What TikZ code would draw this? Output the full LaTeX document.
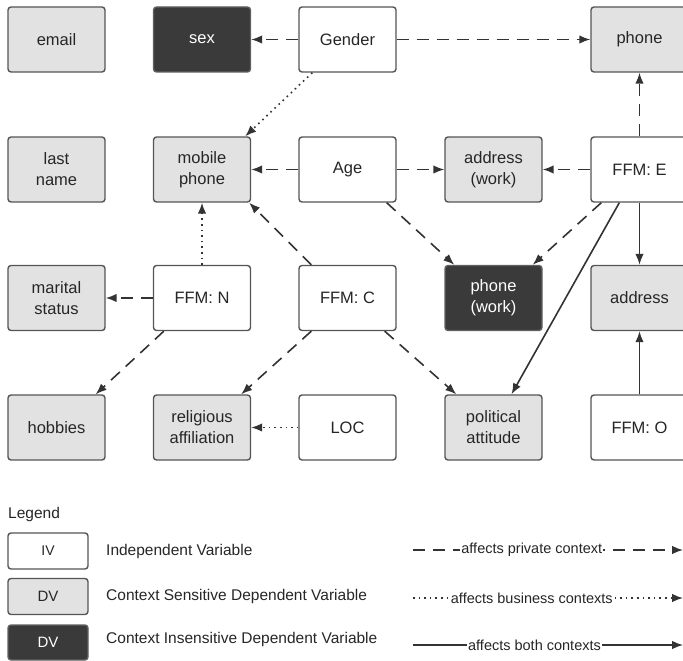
\documentclass[tikz,border=0pt]{standalone}
\usepackage{fontspec}
\setmainfont{Liberation Sans}
\usetikzlibrary{arrows.meta,calc}
\definecolor{edgec}{HTML}{333333}
\definecolor{boxline}{HTML}{555555}
\definecolor{dvfill}{HTML}{E2E2E2}
\definecolor{darkfill}{HTML}{3A3A3A}
\begin{document}
\begin{tikzpicture}[x=1pt,y=-1pt,
  base/.style={rectangle,rounded corners=3pt,draw=boxline,line width=1.4pt,
    minimum width=97pt,minimum height=65pt,inner sep=0pt,align=center,
    font=\fontsize{16.5}{21}\selectfont},
  iv/.style={base,fill=white,text=black!85},
  dv/.style={base,fill=dvfill,text=black!85},
  dk/.style={base,fill=darkfill,draw=darkfill!80,text=white},
  conn/.style={draw=edgec,line width=1.6pt,-{Latex[length=11pt,width=8.5pt]}},
  priv/.style={conn,dash pattern=on 12pt off 8pt},
  bus/.style={conn,dash pattern=on 1.6pt off 4pt},
  both/.style={conn},
  lbl/.style={font=\fontsize{15.5}{18}\selectfont,text=black!85,anchor=west,inner sep=0pt},
  elbl/.style={font=\fontsize{14.5}{17}\selectfont,text=black!85,fill=white,inner sep=1pt}
]
\useasboundingbox (0,0) rectangle (683,661);
\clip (0,0) rectangle (683,661);

% row 1
\node[dv] (email)  at (56.5,39.5) {email};
\node[dk] (sex)    at (202,39.5) {sex};
\node[iv] (gender) at (347.5,39.5) {Gender};
\node[dv] (phone)  at (639.5,39.5) {phone};
% row 2
\node[dv] (last)   at (56.5,169.5) {last\\name};
\node[dv] (mobile) at (202,169.5) {mobile\\phone};
\node[iv] (age)    at (347.5,169.5) {Age};
\node[dv] (addrw)  at (493.5,169.5) {address\\(work)};
\node[iv] (ffme)   at (639.5,169.5) {FFM: E};
% row 3
\node[dv] (marital) at (56.5,298) {marital\\status};
\node[iv] (ffmn)    at (202,298) {FFM: N};
\node[iv] (ffmc)    at (347.5,298) {FFM: C};
\node[dk] (phonew)  at (493.5,298) {phone\\(work)};
\node[dv] (addr)    at (639.5,298) {address};
% row 4
\node[dv] (hobbies) at (56.5,427.5) {hobbies};
\node[dv] (relig)   at (202,427.5) {religious\\affiliation};
\node[iv] (loc)     at (347.5,427.5) {LOC};
\node[dv] (polit)   at (493.5,427.5) {political\\attitude};
\node[iv] (ffmo)    at (639.5,427.5) {FFM: O};

% connectors
\draw[priv] (gender.west) -- (sex.east);
\draw[priv] (gender.east) -- (phone.west);
\draw[bus] ($(gender.south west)+(14,0)$) -- ($(mobile.north east)+(-6,0)$);
\draw[priv] (age.west) -- (mobile.east);
\draw[priv] (age.east) -- (addrw.west);
\draw[priv] (ffme.west) -- (addrw.east);
\draw[priv] (ffme.north) -- (phone.south);
\draw[priv] ($(age.south east)+(-10,0)$) -- ($(phonew.north west)+(10,0)$);
\draw[priv] ($(ffme.south west)+(11,0)$) -- ($(phonew.north east)+(-10,0)$);
\draw[both] ($(ffme.south west)+(29,0)$) -- ($(polit.north)+(18,0)$);
\draw[both] (ffme.south) -- (addr.north);
\draw[both] (ffmo.north) -- (addr.south);
\draw[bus] (ffmn.north) -- (mobile.south);
\draw[priv] ($(ffmc.north west)+(13,0)$) -- ($(mobile.south east)+(-2,0)$);
\draw[priv] (ffmn.west) -- (marital.east);
\draw[priv] ($(ffmn.south west)+(11,0)$) -- ($(hobbies.north east)+(-10,0)$);
\draw[priv] ($(ffmc.south west)+(13,0)$) -- ($(relig.north east)+(-10,0)$);
\draw[priv] ($(ffmc.south east)+(-12,0)$) -- ($(polit.north west)+(12,0)$);
\draw[bus] (loc.west) -- (relig.east);

% legend
\node[lbl] (legend) at (8,514) {Legend};
\node[iv,minimum width=80pt,minimum height=36pt,font=\fontsize{14}{16}\selectfont] (liv) at (48,551) {IV};
\node[dv,minimum width=80pt,minimum height=36pt,font=\fontsize{15}{17}\selectfont] (ldv) at (48,596.5) {DV};
\node[dk,minimum width=80pt,minimum height=35pt,font=\fontsize{15}{17}\selectfont] (ldk) at (48,642.5) {DV};
\node[lbl] (tiv) at (106,551) {Independent Variable};
\node[lbl] (tdv) at (106,596) {Context Sensitive Dependent Variable};
\node[lbl] (tdk) at (106,639) {Context Insensitive Dependent Variable};

\coordinate (l1a) at (413,550);
\coordinate (l1b) at (683,550);
\coordinate (l2a) at (413,598);
\coordinate (l2b) at (683,598);
\coordinate (l3a) at (413,645);
\coordinate (l3b) at (683,645);
\draw[priv,line width=1.3pt] (l1a) -- node[elbl,pos=0.44] {affects private context} (l1b);
\draw[bus,line width=1.3pt] (l2a) -- node[elbl,pos=0.44] {affects business contexts} (l2b);
\draw[both,line width=1.3pt] (l3a) -- node[elbl,pos=0.45] {affects both contexts} (l3b);
\end{tikzpicture}
\end{document}
